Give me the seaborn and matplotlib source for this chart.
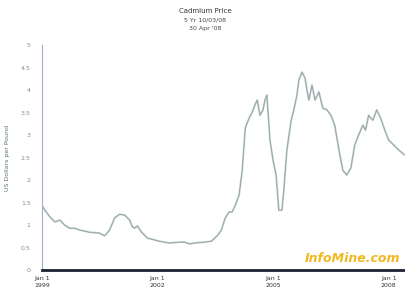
import pandas as pd
import matplotlib.pyplot as plt
import seaborn as sns

# price history (decimal year, USD per pound)
years = [1999.00, 1999.08, 1999.21, 1999.34, 1999.47, 1999.59, 1999.72, 1999.85, 1999.98,
         2000.24, 2000.50, 2000.63, 2000.76, 2000.89, 2001.02, 2001.15, 2001.28, 2001.35,
         2001.41, 2001.48, 2001.59, 2001.74, 2001.92, 2002.05, 2002.31, 2002.57, 2002.70,
         2002.83, 2002.96, 2003.22, 2003.40, 2003.55, 2003.66, 2003.76, 2003.86, 2003.94,
         2004.02, 2004.12, 2004.20, 2004.28, 2004.38, 2004.46, 2004.53, 2004.59, 2004.66,
         2004.74, 2004.79, 2004.84, 2004.92, 2005.00, 2005.08, 2005.15, 2005.23, 2005.28,
         2005.36, 2005.47, 2005.54, 2005.62, 2005.67, 2005.75, 2005.83, 2005.88, 2005.93,
         2006.01, 2006.09, 2006.19, 2006.29, 2006.40, 2006.50, 2006.60, 2006.71, 2006.81,
         2006.91, 2007.02, 2007.12, 2007.22, 2007.33, 2007.40, 2007.48, 2007.59, 2007.69,
         2007.79, 2007.90, 2008.00, 2008.13, 2008.26, 2008.41]
prices = [1.44, 1.33, 1.18, 1.07, 1.11, 1.00, 0.93, 0.93, 0.89,
          0.84, 0.82, 0.76, 0.89, 1.16, 1.24, 1.22, 1.11, 0.96,
          0.93, 0.98, 0.84, 0.71, 0.67, 0.64, 0.60, 0.62, 0.62,
          0.58, 0.60, 0.62, 0.64, 0.76, 0.89, 1.16, 1.29, 1.29,
          1.44, 1.67, 2.22, 3.16, 3.38, 3.51, 3.67, 3.78, 3.44,
          3.56, 3.78, 3.89, 2.89, 2.44, 2.11, 1.33, 1.33, 1.78,
          2.67, 3.33, 3.56, 3.89, 4.22, 4.40, 4.27, 4.00, 3.78,
          4.11, 3.78, 3.96, 3.60, 3.56, 3.44, 3.22, 2.67, 2.22,
          2.11, 2.27, 2.78, 3.00, 3.22, 3.11, 3.44, 3.33, 3.56,
          3.38, 3.11, 2.89, 2.78, 2.67, 2.56]

tick_years = [1999, 2002, 2005, 2008]
tick_labels = ["Jan 1\n1999", "Jan 1\n2002", "Jan 1\n2005", "Jan 1\n2008"]
y_ticks = [0, 0.5, 1, 1.5, 2, 2.5, 3, 3.5, 4, 4.5, 5]

df = pd.DataFrame({"year": years, "price": prices})

sns.set_style("white")
fig = plt.figure(figsize=(4.06, 3.01), dpi=100)
ax = fig.add_axes([0.103, 0.103, 0.897, 0.747])

sns.lineplot(data=df, x="year", y="price", ax=ax, color="#bcc5c5", linewidth=1.3)
sns.lineplot(data=df, x="year", y="price", ax=ax, color="#4d7a78", linewidth=0.4, alpha=0.5)

ax.set_xlim(1999, 2008.45)
ax.set_ylim(0, 5)
ax.set_xticks(tick_years)
ax.set_xticklabels(tick_labels, fontsize=4.5, color="#333333", linespacing=1.6)
ax.set_yticks(y_ticks)
ax.set_yticklabels([f"{v:g}" for v in y_ticks], fontsize=4.5, color="#8a8a8a")
ax.tick_params(axis="y", length=2, width=0.5, color="#8899bb", pad=6)
ax.tick_params(axis="x", length=0, pad=4)
ax.set_xlabel("")
ax.set_ylabel("US Dollars per Pound", fontsize=4.5, color="#557766", labelpad=8)

for s in ["top", "right"]:
    ax.spines[s].set_visible(False)
ax.spines["left"].set_color("#a3aec6")
ax.spines["left"].set_linewidth(0.8)
ax.spines["bottom"].set_color("#1a2430")
ax.spines["bottom"].set_linewidth(2)

fig.text(0.505, 0.965, "Cadmium Price", ha="center", va="center", fontsize=5, color="#333333")
fig.text(0.505, 0.935, "5 Yr 10/03/08", ha="center", va="center", fontsize=4.5, color="#444444")
fig.text(0.505, 0.905, "30 Apr '08", ha="center", va="center", fontsize=4.5, color="#444444")

ax.text(0.985, 0.05, "InfoMine.com", transform=ax.transAxes, ha="right", va="center",
        fontsize=9, fontweight="bold", fontstyle="italic", color="#f2b822")

fig.savefig("out.png", dpi=100)
